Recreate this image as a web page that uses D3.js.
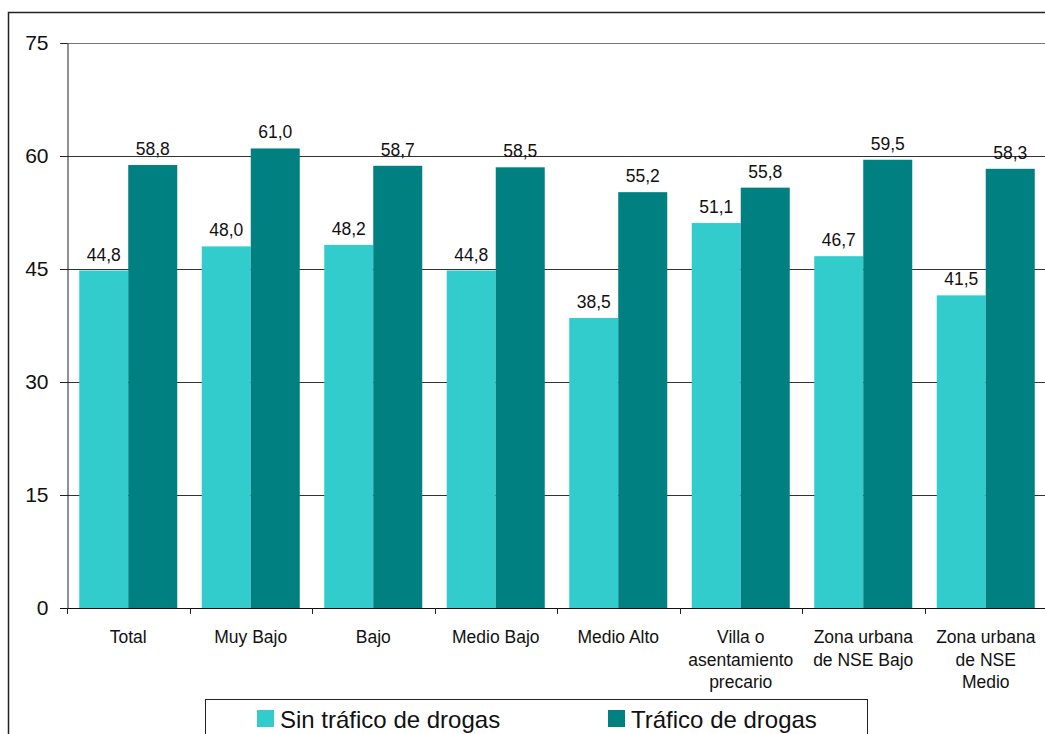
<!DOCTYPE html>
<html>
<head>
<meta charset="utf-8">
<script src="https://cdn.jsdelivr.net/npm/d3@7"></script>
<style>
  body { margin: 0; background: #fff; }
  svg { display: block; font-family: "Liberation Sans", Arial, sans-serif; }
</style>
</head>
<body>
<svg id="chart"></svg>
<script>
const width = 1045, height = 734;

// datos
const categories = ["Total", "Muy Bajo", "Bajo", "Medio Bajo", "Medio Alto",
    "Villa o\nasentamiento\nprecario", "Zona urbana\nde NSE Bajo", "Zona urbana\nde NSE\nMedio"];
const series = ["Sin tráfico de drogas", "Tráfico de drogas"];
const sinTrafico = [44.8, 48.0, 48.2, 44.8, 38.5, 51.1, 46.7, 41.5];
const conTrafico = [58.8, 61.0, 58.7, 58.5, 55.2, 55.8, 59.5, 58.3];
const yTicks = [0, 15, 30, 45, 60, 75];
const colors = ["#33CCCC", "#008080"];

const rows = categories.map((c, i) => ({ cat: c, values: [sinTrafico[i], conTrafico[i]] }));

const svg = d3.select("#chart")
    .attr("width", width)
    .attr("height", height);

// marco exterior
svg.append("path")
    .attr("d", "M8.5,734 V12.5 H1045")
    .attr("fill", "none")
    .attr("stroke", "#222")
    .attr("stroke-width", 1.5);

const x0 = d3.scaleBand().domain(categories).range([67, 1047]);
const x1 = d3.scaleBand().domain(series).range([0, x0.bandwidth()]).paddingOuter(0.25);
const y = d3.scaleLinear().domain([0, 75]).range([608, 43]);

// líneas de la grilla
svg.append("g")
    .selectAll("line")
    .data(yTicks.filter(d => d > 0))
    .join("line")
    .attr("x1", 60).attr("x2", width)
    .attr("y1", d => Math.round(y(d)) + 0.5).attr("y2", d => Math.round(y(d)) + 0.5)
    .attr("stroke", d => d === 75 ? "#777" : "#333")
    .attr("stroke-width", 1);

// barras
const groups = svg.append("g")
    .selectAll("g")
    .data(rows)
    .join("g")
    .attr("transform", d => `translate(${x0(d.cat)},0)`);

groups.selectAll("rect")
    .data(d => d.values.map((v, i) => ({ key: series[i], value: v, i: i })))
    .join("rect")
    .attr("x", d => x1(d.key))
    .attr("width", x1.bandwidth())
    .attr("y", d => y(d.value))
    .attr("height", d => y(0) - y(d.value))
    .attr("fill", d => colors[d.i]);

groups.selectAll("text")
    .data(d => d.values.map((v, i) => ({ key: series[i], value: v })))
    .join("text")
    .attr("x", d => x1(d.key) + x1.bandwidth() / 2)
    .attr("y", d => y(d.value) - 10)
    .attr("text-anchor", "middle")
    .attr("font-size", 17.5)
    .attr("fill", "#111")
    .text(d => d.value.toFixed(1).replace(".", ","));

// eje Y
const yAxis = svg.append("g")
    .attr("transform", "translate(67.5,0)")
    .call(d3.axisLeft(y).tickValues(yTicks).tickSizeInner(7).tickSizeOuter(0).tickPadding(12));
yAxis.selectAll("text").attr("font-size", 21).attr("fill", "#111").attr("font-family", "Liberation Sans, Arial, sans-serif");
yAxis.selectAll("line").attr("stroke", "#222");
yAxis.select(".domain").attr("stroke", "#222");

// eje X
svg.append("line")
    .attr("x1", 60).attr("x2", width)
    .attr("y1", y(0) + 0.5).attr("y2", y(0) + 0.5)
    .attr("stroke", "#111");

svg.append("g")
    .selectAll("line")
    .data(categories)
    .join("line")
    .attr("x1", d => Math.round(x0(d)) + 0.5).attr("x2", d => Math.round(x0(d)) + 0.5)
    .attr("y1", y(0)).attr("y2", y(0) + 6)
    .attr("stroke", "#222");

svg.append("g")
    .selectAll("text")
    .data(categories)
    .join("text")
    .attr("x", d => x0(d) + x0.bandwidth() / 2)
    .attr("y", 643)
    .attr("text-anchor", "middle")
    .attr("font-size", 17.5)
    .attr("fill", "#111")
    .each(function(d) {
        d3.select(this).selectAll("tspan")
            .data(d.split("\n"))
            .join("tspan")
            .attr("x", d3.select(this).attr("x"))
            .attr("dy", (t, i) => i === 0 ? 0 : 22.5)
            .text(t => t);
    });

// leyenda
const legend = svg.append("g");
legend.append("rect")
    .attr("x", 205.5).attr("y", 699.5)
    .attr("width", 662).attr("height", 60)
    .attr("fill", "#fff")
    .attr("stroke", "#222");

const legendX = [257, 608];
const items = legend.selectAll("g")
    .data(series)
    .join("g")
    .attr("transform", (d, i) => `translate(${legendX[i]},710)`);
items.append("rect")
    .attr("width", 17).attr("height", 17)
    .attr("fill", (d, i) => colors[i]);
items.append("text")
    .attr("x", 23).attr("y", 18)
    .attr("font-size", 24)
    .attr("fill", "#111")
    .text(d => d);
</script>
</body>
</html>
